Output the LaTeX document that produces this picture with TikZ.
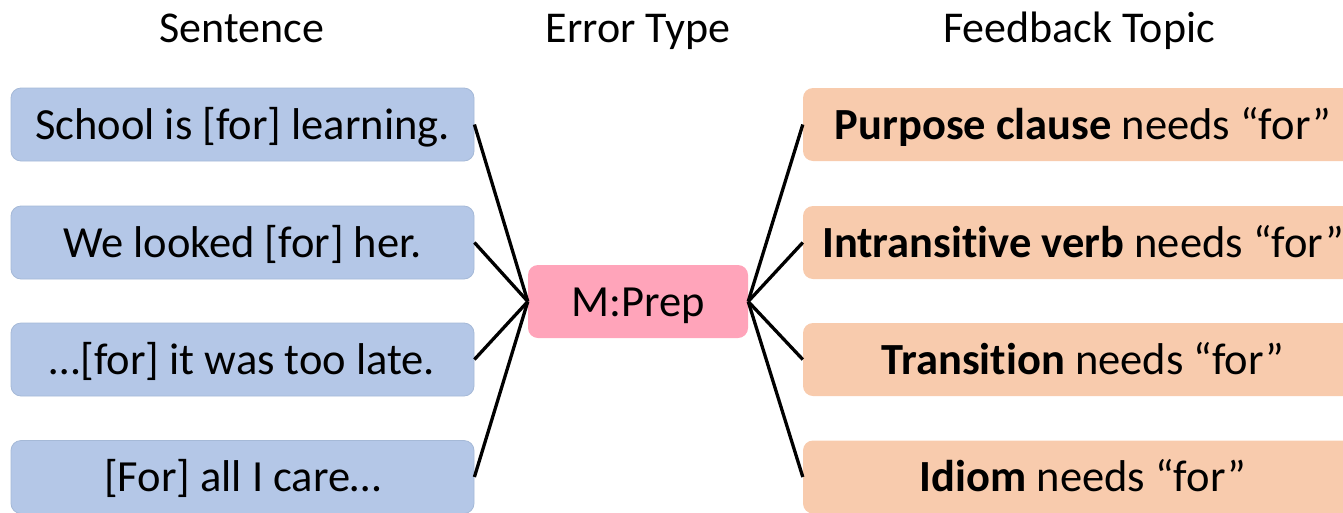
\documentclass[tikz,border=0pt]{standalone}
\usepackage{fontspec}
\setmainfont{Carlito}[Ligatures={TeX,NoCommon}]
\definecolor{sentfill}{RGB}{180,199,231}
\definecolor{sentdraw}{RGB}{165,185,215}
\definecolor{errfill}{RGB}{255,164,186}
\definecolor{topicfill}{RGB}{248,203,173}
\begin{document}
\begin{tikzpicture}[x=1pt,y=-1pt,
  basebox/.style={rounded corners=10pt, minimum height=73pt, inner sep=0pt, text height=33pt, text depth=4pt, font=\fontsize{44.5}{52}\selectfont},
  sentbox/.style={basebox, fill=sentfill, draw=sentdraw, line width=0.8pt, minimum width=463pt},
  errbox/.style={basebox, fill=errfill, minimum width=220pt},
  topicbox/.style={basebox, fill=topicfill, minimum width=560pt},
  header/.style={anchor=base, font=\fontsize{44}{52}\selectfont},
  link/.style={line width=3.3pt, black}]
\useasboundingbox (0,0) rectangle (1343,512);
\clip (0,0) rectangle (1343,512);
\node[header] (h1) at (242,42) {Sentence};
\node[header] (h2) at (638,42) {Error Type};
\node[header] (h3) at (1079,42) {Feedback Topic};
\node[sentbox] (s1) at (242.5,124.5) {School is [for] learning.};
\node[sentbox] (s2) at (242.5,242.5) {We looked [for] her.};
\node[sentbox] (s3) at (242.5,359.5) {…[for] it was too late.};
\node[sentbox] (s4) at (242.5,477) {[For] all I care…};
\node[errbox] (m) at (638,301.5) {M:Prep};
\node[topicbox] (t1) at (1083,124.5) {\textbf{Purpose clause} needs “for”};
\node[topicbox] (t2) at (1083,242.5) {\textbf{Intransitive verb} needs “for”};
\node[topicbox] (t3) at (1083,359.5) {\textbf{Transition} needs “for”};
\node[topicbox] (t4) at (1083,477) {\textbf{Idiom} needs “for”};
\foreach \i in {1,2,3,4} {
  \draw[link] (s\i.east) -- (m.west);
  \draw[link] (m.east) -- (t\i.west);
}
\end{tikzpicture}
\end{document}
